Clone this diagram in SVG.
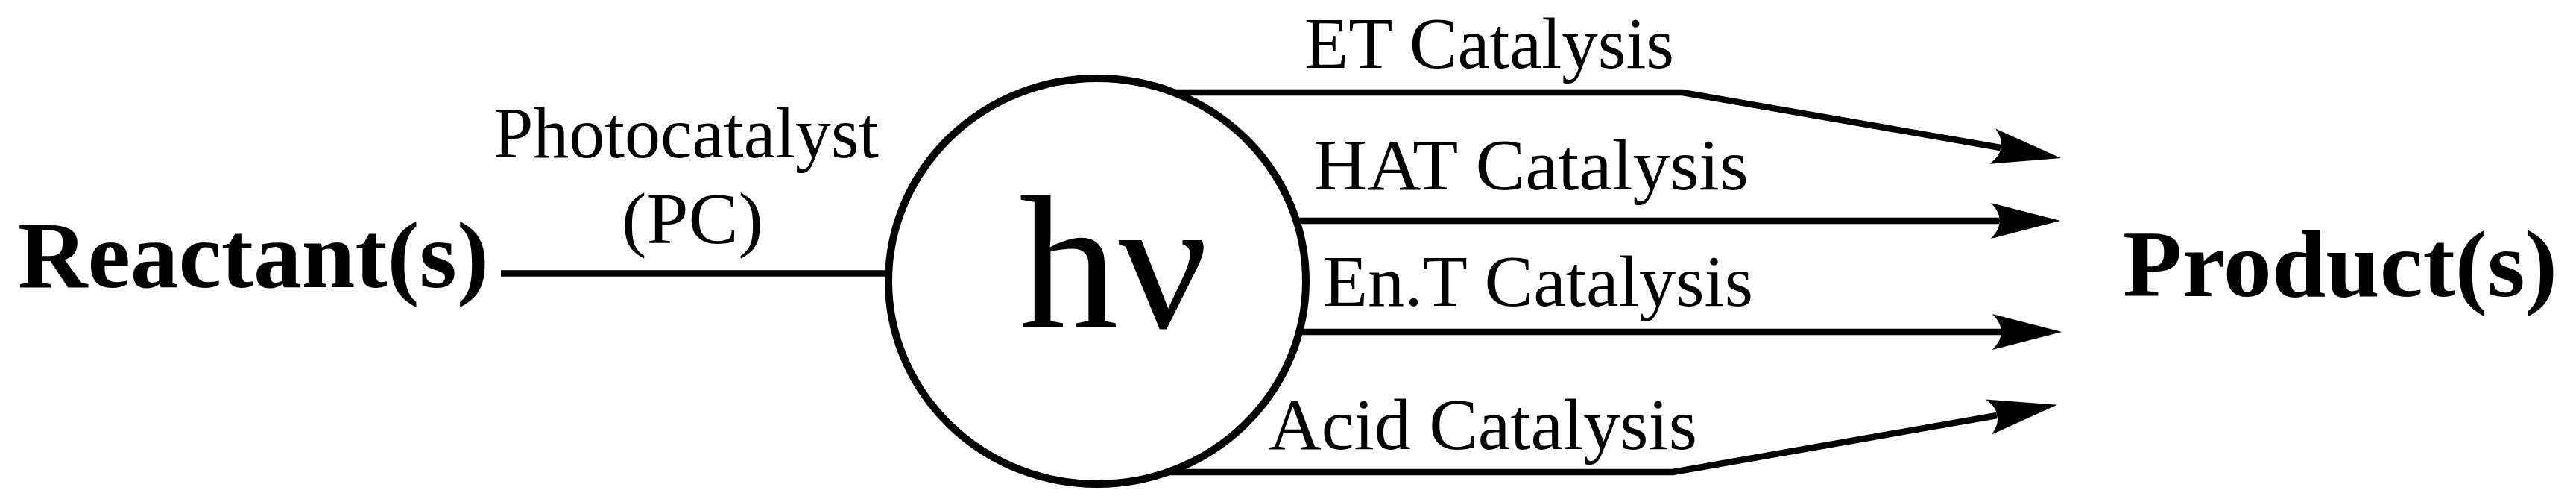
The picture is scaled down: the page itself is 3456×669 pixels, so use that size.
<svg xmlns="http://www.w3.org/2000/svg" width="3456" height="669" viewBox="0 0 3456 669">
<style>
.t{font-family:"Liberation Serif","Times New Roman",serif;fill:#000}
.lbl{font-size:97px}
.big{font-size:128px;font-weight:bold}
.ln{fill:none;stroke:#000;stroke-width:8.5}
</style>
<defs>
<marker id="ah" markerUnits="userSpaceOnUse" markerWidth="100" markerHeight="60" viewBox="-12 -25 90 50" refX="0" refY="0" orient="auto" overflow="visible">
<path d="M74,0 L-10,-21.5 Q2,-9 0,0 Q2,9 -10,21.5 Z" fill="#000"/>
</marker>
</defs>
<rect width="3456" height="669" fill="#fff"/>
<g id="reactants"><text class="t big" x="24" y="385" textLength="632" lengthAdjust="spacingAndGlyphs">Reactant(s)</text></g>
<g id="products"><text class="t big" x="2848" y="397" textLength="583" lengthAdjust="spacingAndGlyphs">Product(s)</text></g>
<g id="light">
<ellipse cx="1472" cy="377" rx="280" ry="272" fill="#fff" stroke="#000" stroke-width="10"/>
<text class="t" x="1367" y="439" font-size="255" textLength="254" lengthAdjust="spacingAndGlyphs">hν</text>
</g>
<g id="connectors">
<line class="ln" x1="672" y1="366.5" x2="1192" y2="366.5"/>
<polyline class="ln" points="1575,124 2257,124 2684,198" marker-end="url(#ah)"/>
<line class="ln" x1="1739" y1="296" x2="2682" y2="296" marker-end="url(#ah)"/>
<line class="ln" x1="1743" y1="445" x2="2684" y2="445" marker-end="url(#ah)"/>
<polyline class="ln" points="1567,633 2244,633 2679,557" marker-end="url(#ah)"/>
</g>
<g id="labels">
<text class="t lbl" x="662" y="211" textLength="517" lengthAdjust="spacingAndGlyphs">Photocatalyst</text>
<text class="t lbl" x="834" y="326" textLength="190" lengthAdjust="spacingAndGlyphs">(PC)</text>
<text class="t lbl" x="1750" y="91" textLength="496" lengthAdjust="spacingAndGlyphs">ET Catalysis</text>
<text class="t lbl" x="1762" y="254" textLength="584" lengthAdjust="spacingAndGlyphs">HAT Catalysis</text>
<text class="t lbl" x="1775" y="410" textLength="577" lengthAdjust="spacingAndGlyphs">En.T Catalysis</text>
<text class="t lbl" x="1702" y="602" textLength="575" lengthAdjust="spacingAndGlyphs">Acid Catalysis</text>
</g>
</svg>
